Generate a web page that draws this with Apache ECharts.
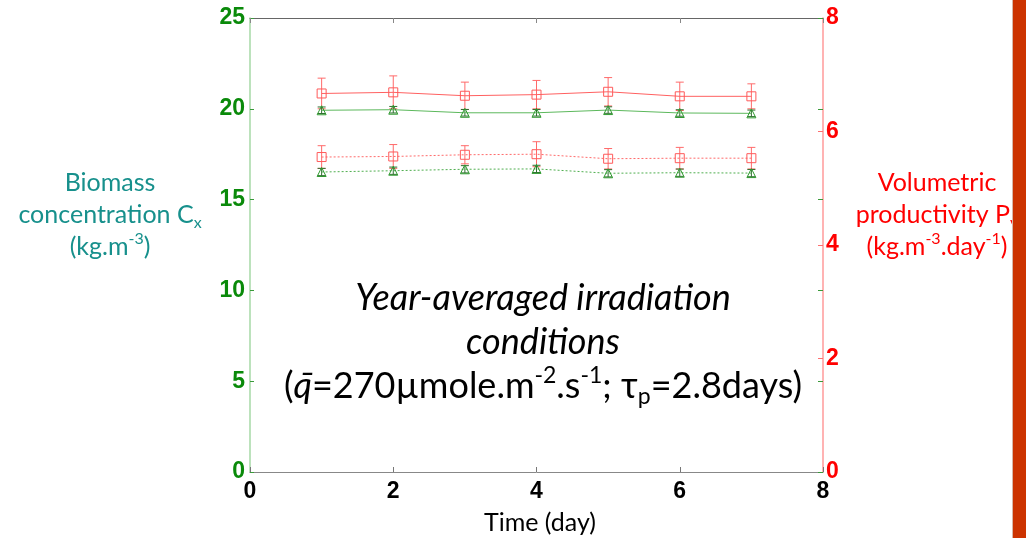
<!DOCTYPE html>
<html><head><meta charset="utf-8">
<script src="https://cdn.jsdelivr.net/npm/echarts@6/dist/echarts.min.js"></script>
<style>html,body{margin:0;padding:0;background:#fff}#c{width:1026px;height:538px}</style>
</head><body><div id="c"></div>
<script>
// ---- data ----
const days = [1, 2, 3, 4, 5, 6, 7];
const prodHigh    = [6.67, 6.69, 6.63, 6.65, 6.70, 6.62, 6.62];
const prodHighErr = [0.27, 0.29, 0.24, 0.25, 0.25, 0.25, 0.22];
const bioHigh     = [19.92, 19.95, 19.78, 19.78, 19.93, 19.77, 19.75];
const bioHighErr  = [0.18, 0.18, 0.18, 0.18, 0.18, 0.18, 0.18];
const prodLow     = [5.55, 5.56, 5.59, 5.60, 5.52, 5.53, 5.53];
const prodLowErr  = [0.20, 0.21, 0.16, 0.22, 0.18, 0.19, 0.19];
const bioLow      = [16.52, 16.59, 16.67, 16.69, 16.45, 16.48, 16.46];
const bioLowErr   = [0.20, 0.20, 0.20, 0.20, 0.20, 0.20, 0.20];
const xRange = [0, 8, 2];
const leftRange = [0, 25, 5];
const rightRange = [0, 8, 2];

const RED = '#ff0000', GREEN = '#0a8a0a', TEAL = '#17908c';
const FONT = 'Lato';
const chart = echarts.init(document.getElementById('c'));

function errSeries(yIdx, vals, errs, color) {
  return {
    type: 'custom', xAxisIndex: 0, yAxisIndex: yIdx, z: 3, silent: true,
    data: days.map((d, i) => [d, vals[i] - errs[i], vals[i] + errs[i]]),
    encode: { x: 0, y: [1, 2] },
    renderItem(params, api) {
      const lo = api.coord([api.value(0), api.value(1)]);
      const hi = api.coord([api.value(0), api.value(2)]);
      const w = 4, st = { stroke: color, lineWidth: 1 };
      return { type: 'group', children: [
        { type: 'line', shape: { x1: lo[0], y1: lo[1], x2: hi[0], y2: hi[1] }, style: st },
        { type: 'line', shape: { x1: lo[0] - w, y1: lo[1], x2: lo[0] + w, y2: lo[1] }, style: st },
        { type: 'line', shape: { x1: hi[0] - w, y1: hi[1], x2: hi[0] + w, y2: hi[1] }, style: st }
      ]};
    }
  };
}
function lineSeries(yIdx, vals, color, markColor, symbol, size, dash) {
  return {
    type: 'line', xAxisIndex: 0, yAxisIndex: yIdx, z: 4, silent: true,
    data: days.map((d, i) => [d, vals[i]]),
    symbol: symbol, symbolSize: size, showAllSymbol: true,
    lineStyle: { color: color, width: 1, type: dash },
    itemStyle: { color: 'rgba(255,255,255,0)', borderColor: markColor, borderWidth: 1 }
  };
}

const tickLbl = (c, m) => ({ color: c, fontWeight: 'bold', fontSize: 23, fontFamily: 'Liberation Sans', margin: m });

chart.setOption({
  animation: false,
  grid: { left: 250, top: 18, right: 203, bottom: 66, containLabel: false },
  xAxis: [
    { type: 'value', min: xRange[0], max: xRange[1], interval: xRange[2], position: 'bottom',
      axisLine: { show: true, onZero: false, lineStyle: { color: '#888888', width: 1 } },
      axisTick: { show: true, inside: true, length: 5, lineStyle: { color: '#777' } },
      axisLabel: tickLbl('#000', 8), splitLine: { show: false } },
    { type: 'value', min: xRange[0], max: xRange[1], interval: xRange[2], position: 'top',
      axisLine: { show: true, onZero: false, lineStyle: { color: '#666666', width: 1 } },
      axisTick: { show: true, inside: true, length: 5, lineStyle: { color: '#888' } },
      axisLabel: { show: false }, splitLine: { show: false } }
  ],
  yAxis: [
    { type: 'value', min: leftRange[0], max: leftRange[1], interval: leftRange[2], position: 'left',
      axisLine: { show: true, onZero: false, lineStyle: { color: '#a6d8a6', width: 1.5 } },
      axisTick: { show: true, inside: true, length: 4, lineStyle: { color: '#3a9a3a' } },
      axisLabel: tickLbl(GREEN, 5), splitLine: { show: false } },
    { type: 'value', min: rightRange[0], max: rightRange[1], interval: rightRange[2], position: 'right',
      axisLine: { show: true, onZero: false, lineStyle: { color: '#ff9a9a', width: 1.5 } },
      axisTick: { show: true, inside: true, length: 5, lineStyle: { color: '#ff7070' } },
      axisLabel: tickLbl(RED, 3), splitLine: { show: false } },
    { type: 'value', min: leftRange[0], max: leftRange[1], interval: leftRange[2], position: 'right',
      axisLine: { show: false, onZero: false },
      axisTick: { show: true, inside: true, length: 5, lineStyle: { color: '#3a9a3a' } },
      axisLabel: { show: false }, splitLine: { show: false } }
  ],
  series: [
    errSeries(1, prodHigh, prodHighErr, '#ff6a6a'),
    errSeries(0, bioHigh, bioHighErr, '#2f6f2f'),
    errSeries(1, prodLow, prodLowErr, '#ff6a6a'),
    errSeries(0, bioLow, bioLowErr, '#2f6f2f'),
    lineSeries(1, prodHigh, '#ff6060', '#ff5a5a', 'rect', 9, 'solid'),
    lineSeries(0, bioHigh, '#5cb85c', '#2e9a2e', 'triangle', 9, 'solid'),
    lineSeries(1, prodLow, '#ff6a6a', '#ff5a5a', 'rect', 9, [2, 2]),
    lineSeries(0, bioLow, '#4fae4f', '#2e9a2e', 'triangle', 9, [2, 2])
  ],
  graphic: [
    { type: 'text', x: 110, y: 215, z: 10, style: {
        text: '{a|Biomass}\n{a|concentration C}{sub|x}\n{a|(kg.m}{sup|-3}{a|)}',
        align: 'center', verticalAlign: 'middle', fill: TEAL,
        rich: {
          a: { fontFamily: FONT, fontSize: 25, lineHeight: 32, fill: TEAL },
          sub: { fontFamily: FONT, fontSize: 16, lineHeight: 20, verticalAlign: 'bottom', fill: TEAL },
          sup: { fontFamily: FONT, fontSize: 16, lineHeight: 20, verticalAlign: 'top', fill: TEAL }
        } } },
    { type: 'text', x: 937, y: 215, z: 10, style: {
        text: '{a|Volumetric}\n{a|productivity P}{sub|v}\n{a|(kg.m}{sup|-3}{a|.day}{sup|-1}{a|)}',
        align: 'center', verticalAlign: 'middle', fill: RED,
        rich: {
          a: { fontFamily: FONT, fontSize: 25, lineHeight: 32, fill: RED },
          sub: { fontFamily: FONT, fontSize: 16, lineHeight: 20, verticalAlign: 'bottom', fill: RED },
          sup: { fontFamily: FONT, fontSize: 16, lineHeight: 20, verticalAlign: 'top', fill: RED }
        } } },
    { type: 'text', x: 543, y: 342, z: 10, style: {
        text: '{i|Year-averaged irradiation}\n{i|conditions}\n{b|(}{i|q\u0304}{b|=270µmole.m}{sup|-2}{b|.s}{sup|-1}{b|; τ}{sub|p}{b|=2.8days)}',
        align: 'center', verticalAlign: 'middle', fill: '#000',
        rich: {
          i: { fontFamily: FONT, fontSize: 36, fontStyle: 'italic', lineHeight: 44, fill: '#000' },
          b: { fontFamily: FONT, fontSize: 36, lineHeight: 44, fill: '#000' },
          sub: { fontFamily: FONT, fontSize: 23, lineHeight: 28, verticalAlign: 'bottom', fill: '#000' },
          sup: { fontFamily: FONT, fontSize: 23, lineHeight: 28, verticalAlign: 'top', fill: '#000' }
        } } },
    { type: 'text', x: 540, y: 523, z: 10, style: {
        text: 'Time (day)', align: 'center', verticalAlign: 'middle',
        fontFamily: FONT, fontSize: 25, fill: '#000' } },
    { type: 'rect', z: 20, shape: { x: 1012, y: 0, width: 14, height: 538 }, style: { fill: '#cc3300' } },
    { type: 'line', z: 21, shape: { x1: 1012.5, y1: 0, x2: 1012.5, y2: 538 }, style: { stroke: '#d8b8a8', lineWidth: 1 } }
  ]
});
</script></body></html>
